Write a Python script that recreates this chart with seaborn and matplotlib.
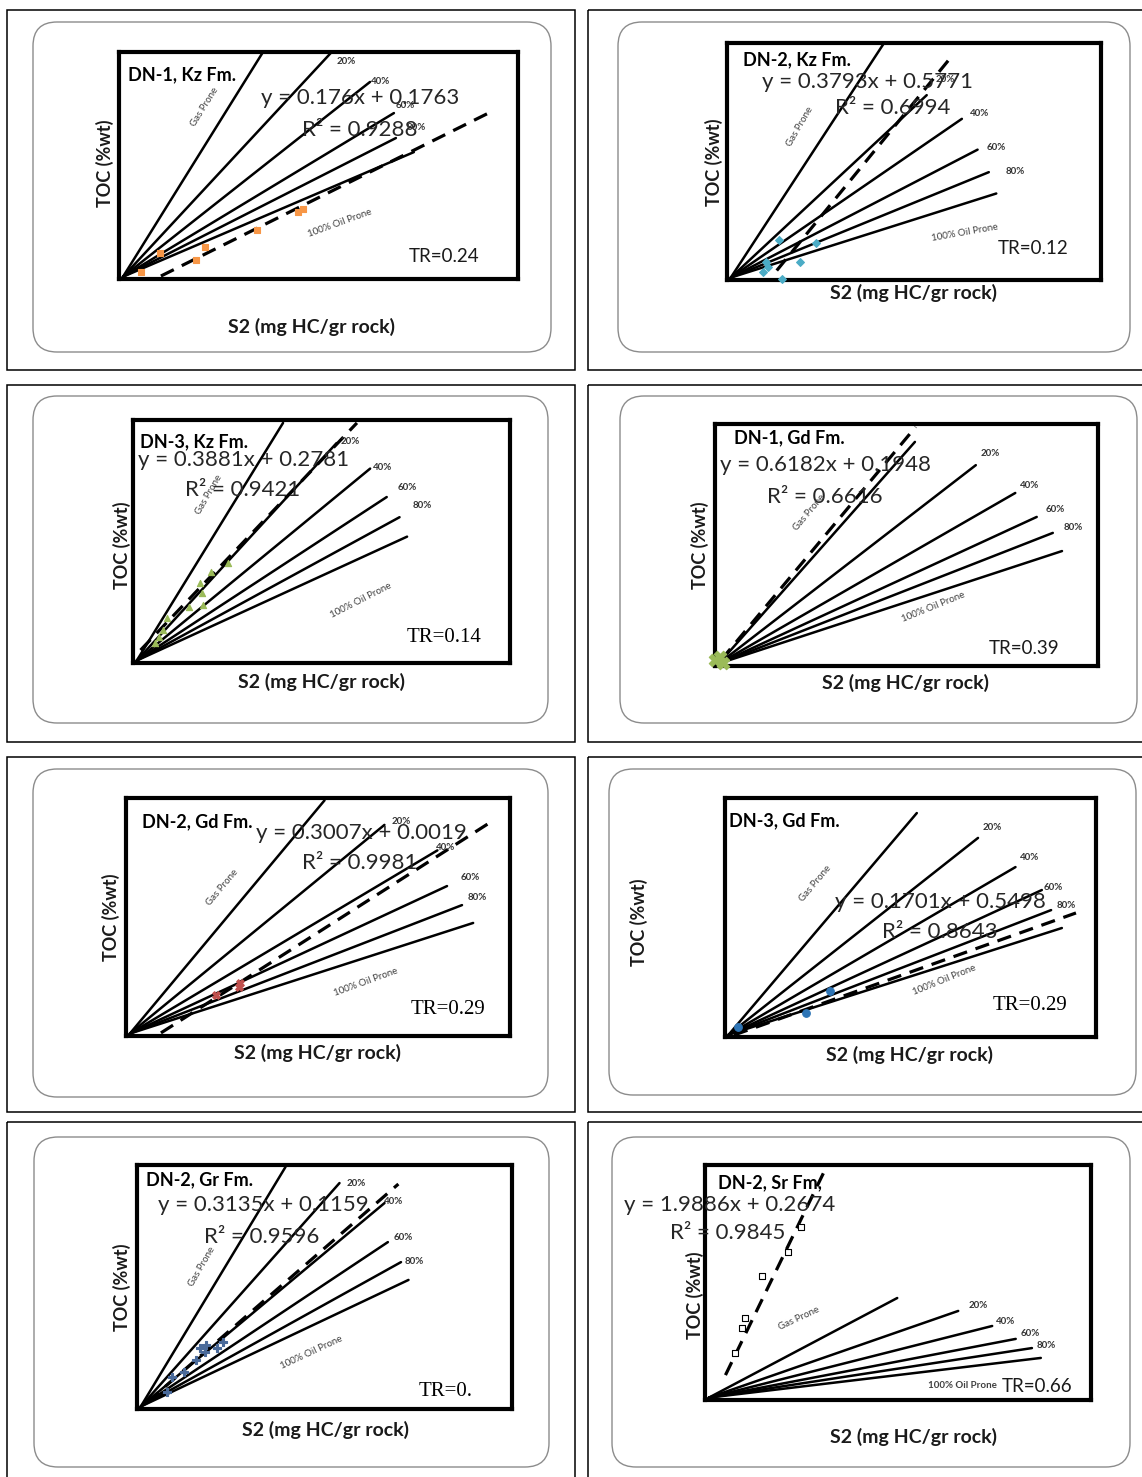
"""
TOC vs S2 kerogen-type plots for the DN wells (8 panels)
"""

import pandas as pd
import matplotlib
matplotlib.use("Agg")
import matplotlib.pyplot as plt
from matplotlib.patches import FancyBboxPatch, Rectangle
import seaborn as sns

W, H = 1142, 1477

# ---- values (plot box = 0..1 on both axes) ----
titles = ["DN-1, Kz Fm.", "DN-2, Kz Fm.", "DN-3, Kz Fm.", "DN-1, Gd Fm.",
          "DN-2, Gd Fm.", "DN-3, Gd Fm.", "DN-2, Gr Fm.", "DN-2, Sr Fm,"]
equations = ["y = 0.176x + 0.1763", "y = 0.3793x + 0.5771", "y = 0.3881x + 0.2781",
             "y = 0.6182x + 0.1948", "y = 0.3007x + 0.0019", "y = 0.1701x + 0.5498",
             "y = 0.3135x + 0.1159", "y = 1.9886x + 0.2674"]
r_squared = ["0.9288", "0.6994", "0.9421", "0.6616", "0.9981", "0.8643", "0.9596", "0.9845"]
tr_values = ["0.24", "0.12", "0.14", "0.39", "0.29", "0.29", "0.", "0.66"]

pct_labels = ["20%", "40%", "60%", "80%"]
zone_origin = (0.01, 0.01)
# end of each type line: gas, 20%, 40%, 60%, 80%, 100% oil
zone_end_x = [
    [0.361, 0.531, 0.629, 0.689, 0.694, 0.739],
    [0.420, 0.534, 0.628, 0.670, 0.700, 0.720],
    [0.398, 0.540, 0.629, 0.673, 0.707, 0.727],
    [0.522, 0.681, 0.784, 0.840, 0.882, 0.906],
    [0.517, 0.673, 0.811, 0.836, 0.875, 0.904],
    [0.517, 0.682, 0.783, 0.854, 0.879, 0.908],
    [0.396, 0.540, 0.660, 0.669, 0.704, 0.724],
    [0.498, 0.656, 0.744, 0.805, 0.847, 0.870],
]
zone_end_y = [
    [1.000, 0.996, 0.868, 0.731, 0.621, 0.559],
    [1.000, 0.780, 0.680, 0.550, 0.455, 0.365],
    [0.988, 0.905, 0.800, 0.683, 0.600, 0.520],
    [0.926, 0.830, 0.715, 0.616, 0.550, 0.475],
    [0.990, 0.887, 0.780, 0.630, 0.550, 0.475],
    [0.937, 0.833, 0.711, 0.615, 0.531, 0.456],
    [0.992, 0.926, 0.844, 0.684, 0.602, 0.529],
    [0.434, 0.379, 0.315, 0.260, 0.221, 0.179],
]
# dashed trend line ends
trend_x = [[0.105, 0.925], [0.133, 0.604], [0.020, 0.594], [0.016, 0.524],
           [0.091, 0.946], [0.024, 0.946], [0.028, 0.697], [0.053, 0.317]]
trend_y = [[0.013, 0.730], [0.040, 0.950], [0.053, 0.988], [0.025, 0.988],
           [0.013, 0.895], [0.008, 0.519], [0.029, 0.922], [0.106, 1.000]]
# samples
samples_x = [
    [0.054, 0.102, 0.216, 0.346, 0.449, 0.461, 0.193],
    [0.139, 0.104, 0.096, 0.110, 0.195, 0.239, 0.148],
    [0.089, 0.079, 0.069, 0.148, 0.177, 0.207, 0.182, 0.187, 0.251, 0.059],
    [0.001, 0.020, 0.012],
    [0.235, 0.298, 0.293],
    [0.034, 0.218, 0.282],
    [0.081, 0.092, 0.126, 0.156, 0.180, 0.185, 0.230, 0.214, 0.169],
    [0.078, 0.097, 0.104, 0.148, 0.216, 0.249],
]
samples_y = [
    [0.032, 0.116, 0.142, 0.216, 0.295, 0.310, 0.084],
    [0.169, 0.076, 0.034, 0.055, 0.076, 0.156, 0.004],
    [0.185, 0.136, 0.107, 0.230, 0.329, 0.374, 0.288, 0.239, 0.412, 0.082],
    [0.025, 0.012, 0.037],
    [0.172, 0.223, 0.207],
    [0.042, 0.100, 0.192],
    [0.070, 0.131, 0.152, 0.200, 0.234, 0.262, 0.275, 0.250, 0.250],
    [0.200, 0.306, 0.349, 0.528, 0.630, 0.736],
]

# ---- layout (pixels) ----
plot_box = [(119, 52, 518, 279), (727, 43, 1101, 280), (133, 420, 510, 663), (715, 424, 1098, 666),
            (126, 798, 510, 1036), (725, 798, 1096, 1037), (137, 1165, 512, 1409), (705, 1165, 1091, 1400)]
round_box = [(33, 22, 551, 352), (618, 22, 1130, 352), (33, 396, 548, 723), (620, 396, 1137, 723),
             (33, 769, 548, 1097), (609, 769, 1136, 1095), (34, 1137, 549, 1467), (612, 1137, 1130, 1467)]
cell_cols = [(7, 575), (588, 1150)]
cell_rows = [(10, 370), (385, 742), (757, 1112), (1122, 1490)]

title_pos = [(128, 75), (743, 60), (140, 442), (734, 438), (142, 822), (729, 821), (146, 1180), (718, 1183)]
eq_pos = [(360, 98), (868, 82), (244, 460), (826, 465), (361, 833), (940, 902), (263, 1205), (730, 1205)]
r2_pos = [(360, 130), (893, 108), (243, 490), (825, 497), (360, 863), (940, 932), (262, 1237), (728, 1233)]
gas_pos = [(205, 107, 58), (800, 127, 60), (209, 495, 60), (809, 512, 50),
           (222, 887, 50), (815, 883, 50), (202, 1267, 60), (799, 1318, 25)]
oil_pos = [(340, 223, 20), (965, 233, 10), (361, 600, 27), (933, 607, 22),
           (366, 982, 20), (944, 980, 22), (311, 1352, 25), (962, 1385, 0)]
pct_pos = [
    [(346, 61), (381, 81), (405, 106), (416, 128)],
    [(945, 80), (980, 113), (996, 147), (1015, 172)],
    [(350, 441), (383, 467), (407, 488), (422, 505)],
    [(990, 453), (1030, 485), (1055, 510), (1073, 527)],
    [(401, 821), (446, 848), (470, 878), (477, 898)],
    [(992, 828), (1030, 858), (1053, 887), (1066, 905)],
    [(356, 1183), (394, 1201), (403, 1238), (414, 1261)],
    [(978, 1305), (1006, 1321), (1030, 1333), (1046, 1345)],
]
tr_pos = [(444, 256), (1033, 248), (444, 637), (1024, 648), (448, 1010), (1030, 1005), (446, 1392), (1037, 1387)]
tr_serif = [False, False, True, False, True, True, True, False]
toc_pos = [(105, 163), (714, 162), (122, 545), (700, 545), (111, 917), (639, 922), (122, 1287), (695, 1295)]
s2_pos = [(311, 327), (913, 293), (322, 682), (906, 683), (318, 1053), (910, 1055), (326, 1430), (913, 1437)]

marker_style = [
    dict(marker="s", color="#F79646", s=22, edgecolor="#F79646"),
    dict(marker="D", color="#4BACC6", s=16, edgecolor="#4BACC6"),
    dict(marker="^", color="#9BBB59", s=20, edgecolor="#9BBB59"),
    dict(marker="X", color="#9BBB59", s=80, edgecolor="#9BBB59"),
    dict(marker="X", color="#C0504D", s=30, edgecolor="#C0504D"),
    dict(marker="o", color="#2E75B6", s=30, edgecolor="#2E75B6"),
    dict(marker="P", color="#4A6A9A", s=30, edgecolor="#4A6A9A"),
    dict(marker="s", color="white", s=22, edgecolor="black"),
]

sns.set_style("white")
plt.rcParams["font.family"] = ["Lato", "DejaVu Sans"]

fig = plt.figure(figsize=(W / 100, H / 100), dpi=100)
bg = fig.add_axes([0, 0, 1, 1])
bg.set_xlim(0, W)
bg.set_ylim(H, 0)
bg.axis("off")

# table cells
for (cx0, cx1) in cell_cols:
    for (cy0, cy1) in cell_rows:
        bg.add_patch(Rectangle((cx0, cy0), cx1 - cx0, cy1 - cy0, fill=False, ec="black", lw=1.1))

for i in range(8):
    rx0, ry0, rx1, ry1 = round_box[i]
    bg.add_patch(FancyBboxPatch((rx0, ry0), rx1 - rx0, ry1 - ry0,
                                boxstyle="round,pad=0,rounding_size=24",
                                fc="white", ec="#8c8c8c", lw=1.0))
    bg.text(*toc_pos[i], "TOC (%wt)", rotation=90, ha="center", va="center",
            fontsize=13, fontweight="bold", color="#1a1a1a")
    bg.text(*s2_pos[i], "S2 (mg HC/gr rock)", ha="center", va="center",
            fontsize=14, fontweight="bold", color="#1a1a1a")

    x0, y0, x1, y1 = plot_box[i]
    ax = fig.add_axes([x0 / W, 1 - y1 / H, (x1 - x0) / W, (y1 - y0) / H])
    ax.set_xlim(0, 1)
    ax.set_ylim(0, 1)

    # type lines from the origin
    rows = []
    for k in range(6):
        rows.append(dict(line=k, x=zone_origin[0], y=zone_origin[1]))
        rows.append(dict(line=k, x=zone_end_x[i][k], y=zone_end_y[i][k]))
    zones = pd.DataFrame(rows)
    sns.lineplot(data=zones, x="x", y="y", units="line", estimator=None, sort=False,
                 color="black", linewidth=1.8, ax=ax, legend=False)

    # regression line
    sns.lineplot(x=trend_x[i], y=trend_y[i], estimator=None, sort=False, color="black",
                 linewidth=2.3, linestyle=(0, (4.5, 2.8)), ax=ax, legend=False)

    sns.scatterplot(x=samples_x[i], y=samples_y[i], ax=ax, linewidth=0.8,
                    zorder=5, clip_on=False, legend=False, **marker_style[i])

    ax.set(xlabel="", ylabel="", xticks=[], yticks=[])
    for sp in ax.spines.values():
        sp.set_visible(True)
        sp.set_linewidth(3.0)
        sp.set_color("black")

    t = bg.transData
    ax.text(*title_pos[i], titles[i], transform=t, ha="left", va="center",
            fontsize=13, fontweight="bold", color="black", zorder=6)
    ax.text(*eq_pos[i], equations[i], transform=t, ha="center", va="center",
            fontsize=16, color="#262626", zorder=6)
    ax.text(*r2_pos[i], "R² = " + r_squared[i], transform=t, ha="center", va="center",
            fontsize=16, color="#262626", zorder=6)
    gx, gy, grot = gas_pos[i]
    ax.text(gx, gy, "Gas Prone", transform=t, ha="center", va="center", rotation=grot,
            fontsize=7, color="#404040", zorder=6)
    ox, oy, orot = oil_pos[i]
    ax.text(ox, oy, "100% Oil Prone", transform=t, ha="center", va="center", rotation=orot,
            fontsize=7, color="#404040", fontweight="bold" if orot == 0 else "normal", zorder=6)
    for lab, (px, py) in zip(pct_labels, pct_pos[i]):
        ax.text(px, py, lab, transform=t, ha="center", va="center",
                fontsize=7, fontweight="bold", color="#333333", zorder=6)
    if tr_serif[i]:
        ax.text(*tr_pos[i], "TR=" + tr_values[i], transform=t, ha="center", va="center",
                fontsize=15, family=["Liberation Serif", "DejaVu Serif"], color="black", zorder=6)
    else:
        ax.text(*tr_pos[i], "TR=" + tr_values[i], transform=t, ha="center", va="center",
                fontsize=13.5, color="#1a1a1a", zorder=6)

fig.savefig("out.png", dpi=100)
